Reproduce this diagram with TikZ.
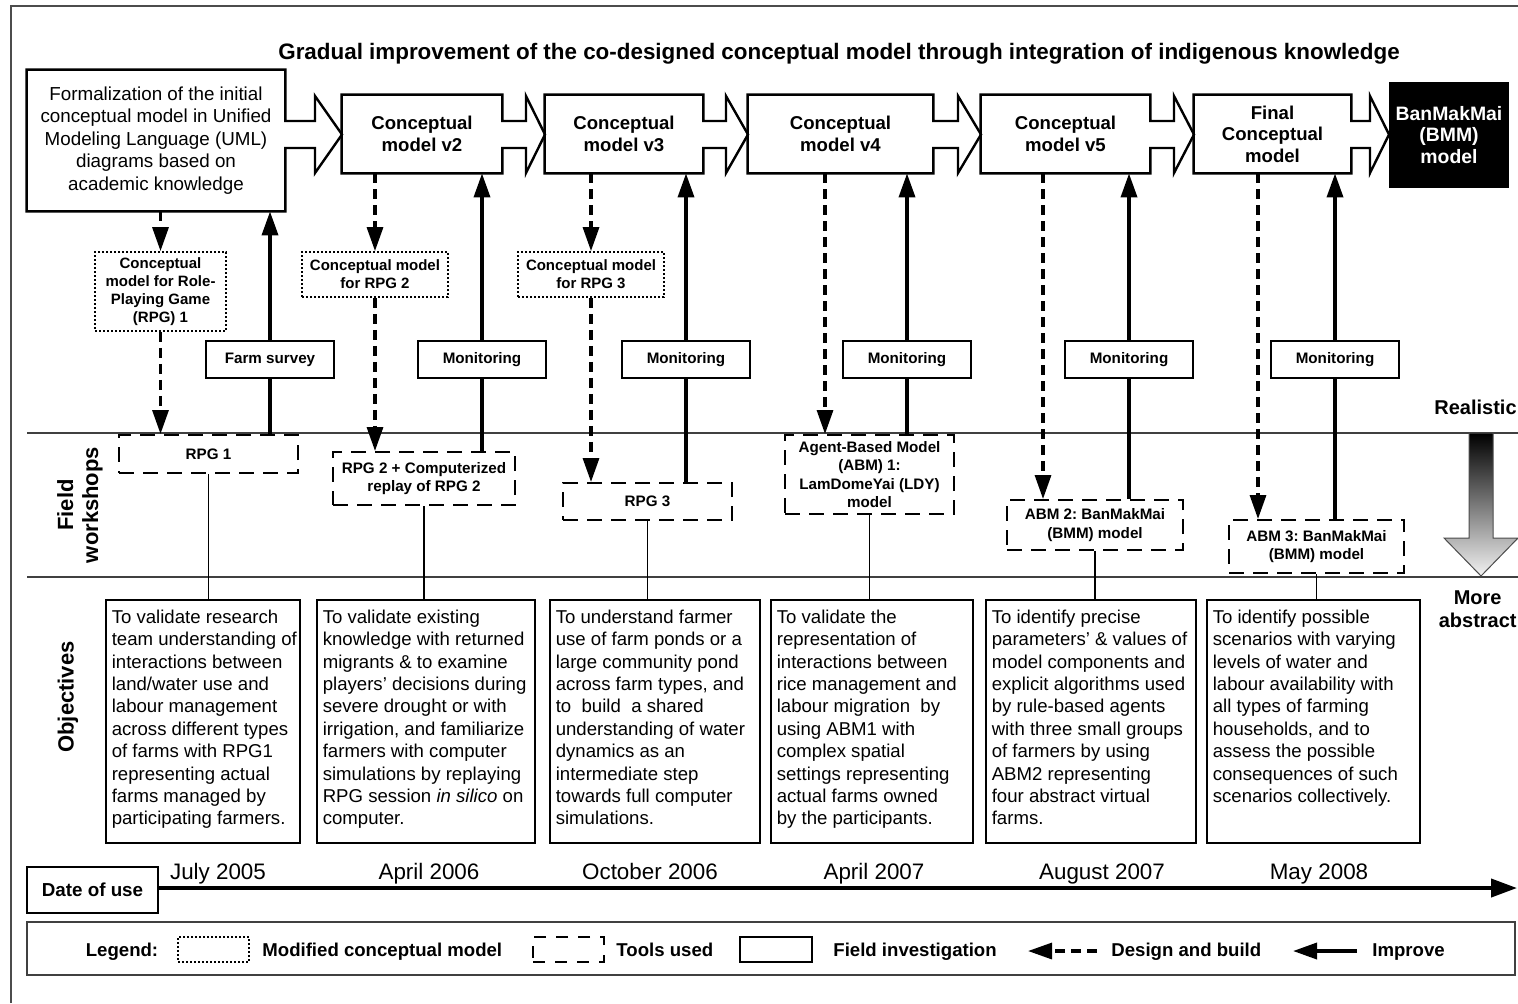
\documentclass[tikz,border=0pt]{standalone}
\usepackage{fontspec}
\setmainfont{Liberation Sans}
\usetikzlibrary{arrows.meta}
\frenchspacing

\begin{document}
\begin{tikzpicture}[
  x = 0.5pt, y = -0.5pt,
  every node/.style = {inner sep = 0pt},
  stage/.style = {align = center, font = \bfseries\fontsize{9.3}{10.8}\selectfont},
  stageline/.style = {line width = 1.2pt, line join = miter},
  cmbox/.style = {draw, dash pattern = on 1pt off 1pt, line width = 0.9pt, align = center,
                  font = \bfseries\fontsize{7.5}{9}\selectfont},
  toolbox/.style = {draw, dash pattern = on 7.5pt off 4.5pt, line width = 1pt, align = center,
                    font = \bfseries\fontsize{7.6}{9.1}\selectfont},
  fieldbox/.style = {draw, line width = 1pt, minimum width = 64pt, minimum height = 18.5pt,
                     font = \bfseries\fontsize{7.6}{9}\selectfont},
  objbox/.style = {draw, line width = 0.6pt, minimum height = 121.5pt},
  objtext/.style = {anchor = north west, align = left, inner xsep = 3pt, inner ysep = 5pt,
                    font = \fontsize{9.3}{11.2}\selectfont},
  design/.style = {-{Triangle[length = 12pt, width = 8pt]}, line width = 1.6pt, dash pattern = on 5pt off 3pt},
  improve/.style = {-{Triangle[length = 12pt, width = 8pt]}, line width = 1.8pt},
  link/.style = {line width = 0.8pt},
  sep/.style = {draw = black!75, line width = 0.6pt},
  datelabel/.style = {anchor = base, font = \fontsize{11.2}{13}\selectfont},
  keytext/.style = {anchor = base west, font = \bfseries\fontsize{9.3}{11}\selectfont},
  side/.style = {rotate = 90, align = center, font = \bfseries\fontsize{11}{12.5}\selectfont},
  ]
  \useasboundingbox (0,0) rectangle (1518,1003);
  \draw[black!70, line width = 0.6pt] (11,1003) -- (11,6) -- (1518,6);

  \node[font = \bfseries\fontsize{11.2}{13}\selectfont] (title) at (839,54)
    {Gradual improvement of the co-designed conceptual model through integration of indigenous knowledge};

  % conceptual model stages
  \node[stage, minimum width = 129pt, minimum height = 70.5pt, font = \fontsize{9.4}{11.2}\selectfont]
    (s1) at (156,140.5) {Formalization of the initial\\conceptual model in Unified\\Modeling Language (UML)\\diagrams based on\\academic knowledge};
  \node[stage, minimum width = 80pt, minimum height = 39pt] (s2) at (422,134) {Conceptual\\model v2};
  \node[stage, minimum width = 79pt, minimum height = 39pt] (s3) at (624,134) {Conceptual\\model v3};
  \node[stage, minimum width = 92.5pt, minimum height = 39pt] (s4) at (840.5,134) {Conceptual\\model v4};
  \node[stage, minimum width = 84.5pt, minimum height = 39pt] (s5) at (1065.5,134) {Conceptual\\model v5};
  \node[stage, minimum width = 78.5pt, minimum height = 39pt] (s6) at (1272.5,134) {Final\\Conceptual\\model};
  \node[stage, minimum width = 60pt, minimum height = 53pt, fill = black, text = white,
        font = \bfseries\fontsize{9.7}{10.6}\selectfont] (bmm) at (1449,135) {BanMakMai\\(BMM)\\model};

  \foreach \n/\h/\t in {s1/315/342, s2/526/545, s3/726/748, s4/958/981, s5/1174/1194, s6/1370/1389}
    \draw[stageline] (\n.north west) -- (\n.north east) -- (\n.east |- 0,121) -- (\h,121) -- (\h,96)
      -- (\t,134.5) -- (\h,173) -- (\h,148) -- (\n.east |- 0,148) -- (\n.south east) -- (\n.south west) -- cycle;

  % modified conceptual models
  \node[cmbox, minimum width = 65.5pt, minimum height = 39.5pt] (cm1) at (160.5,291.5)
    {Conceptual\\model for Role-\\Playing Game\\(RPG) 1};
  \node[cmbox, minimum width = 73pt, minimum height = 22.5pt] (cm2) at (375,274.5) {Conceptual model\\for RPG 2};
  \node[cmbox, minimum width = 73pt, minimum height = 22.5pt] (cm3) at (591,274.5) {Conceptual model\\for RPG 3};

  % field investigations
  \node[fieldbox] (m1) at (270,359.5) {Farm survey};
  \node[fieldbox] (m2) at (482,359.5) {Monitoring};
  \node[fieldbox] (m3) at (686,359.5) {Monitoring};
  \node[fieldbox] (m4) at (907,359.5) {Monitoring};
  \node[fieldbox] (m5) at (1129,359.5) {Monitoring};
  \node[fieldbox] (m6) at (1335,359.5) {Monitoring};

  % tools used in the workshops
  \node[toolbox, minimum width = 89.5pt, minimum height = 19pt] (t1) at (208.5,454) {RPG 1};
  \node[toolbox, minimum width = 91pt, minimum height = 26.5pt] (t2) at (424,478.5) {RPG 2 + Computerized\\replay of RPG 2};
  \node[toolbox, minimum width = 84.5pt, minimum height = 18.5pt] (t3) at (647.5,501.5) {RPG 3};
  \node[toolbox, minimum width = 84.5pt, minimum height = 39.5pt] (t4) at (869.5,474.5)
    {Agent-Based Model\\(ABM) 1:\\LamDomeYai (LDY)\\model};
  \node[toolbox, minimum width = 88pt, minimum height = 25pt] (t5) at (1095,525) {ABM 2: BanMakMai\\(BMM) model};
  \node[toolbox, minimum width = 87.5pt, minimum height = 26.5pt] (t6) at (1316.5,546.5) {ABM 3: BanMakMai\\(BMM) model};

  \draw[sep] (27,433) -- (1518,433);
  \draw[sep] (27,577) -- (1518,577);
  \node[side] (fw) at (80,505) {Field\\workshops};
  \node[side] (obj) at (68,697) {Objectives};

  % design and build
  \draw[design] (s1.south -| cm1) -- (cm1.north);
  \draw[design] (cm1.south) -- (cm1.south |- t1.north);
  \draw[design] (s2.south -| cm2) -- (cm2.north);
  \draw[design] (cm2.south) -- (cm2.south |- t2.north);
  \draw[design] (s3.south -| cm3) -- (cm3.north);
  \draw[design] (cm3.south) -- (cm3.south |- t3.north);
  \draw[design] (s4.south -| 825,0) -- (t4.north -| 825,0);
  \draw[design] (s5.south -| 1043,0) -- (t5.north -| 1043,0);
  \draw[design] (s6.south -| 1258,0) -- (t6.north -| 1258,0);

  % improve
  \foreach \i in {1,...,6} {
    \draw[improve, -] (t\i.north -| m\i) -- (m\i.south);
    \draw[improve] (m\i.north) -- (m\i.north |- s\i.south);
  }

  % objectives
  \node[objbox, minimum width = 97pt] (o1) at (203,721.5) {};
  \node[objbox, minimum width = 109pt] (o2) at (426,721.5) {};
  \node[objbox, minimum width = 105pt] (o3) at (655,721.5) {};
  \node[objbox, minimum width = 101pt] (o4) at (872,721.5) {};
  \node[objbox, minimum width = 105pt] (o5) at (1091,721.5) {};
  \node[objbox, minimum width = 106.5pt] (o6) at (1313.5,721.5) {};
  \foreach \i in {1,...,6}
    \draw[link] (t\i.south) -- (t\i.south |- o\i.north);

  \node[objtext] (ot1) at (o1.north west) {To validate research\\team understanding of\\interactions between\\land/water use and\\labour management\\across different types\\of farms with RPG1\\representing actual\\farms managed by\\participating farmers.};
  \node[objtext] (ot2) at (o2.north west) {To validate existing\\knowledge with returned\\migrants \& to examine\\players’ decisions during\\severe drought or with\\irrigation, and familiarize\\farmers with computer\\simulations by replaying\\RPG session \textit{in silico} on\\computer.};
  \node[objtext] (ot3) at (o3.north west) {To understand farmer\\use of farm ponds or a\\large community pond\\across farm types, and\\to\ \ build\ \ a shared\\understanding of water\\dynamics as an\\intermediate step\\towards full computer\\simulations.};
  \node[objtext] (ot4) at (o4.north west) {To validate the\\representation of\\interactions between\\rice management and\\labour migration\ \ by\\using ABM1 with\\complex spatial\\settings representing\\actual farms owned\\by the participants.};
  \node[objtext] (ot5) at (o5.north west) {To identify precise\\parameters’ \& values of\\model components and\\explicit algorithms used\\by rule-based agents\\with three small groups\\of farmers by using\\ABM2 representing\\four abstract virtual\\farms.};
  \node[objtext] (ot6) at (o6.north west) {To identify possible\\scenarios with varying\\levels of water and\\labour availability with\\all types of farming\\households, and to\\assess the possible\\consequences of such\\scenarios collectively.};

  % realistic to abstract
  \node[anchor = east, font = \bfseries\fontsize{10}{12}\selectfont] (real) at (1517,407) {Realistic};
  \shade[top color = black, bottom color = white!95!black, draw = black!70, line width = 0.5pt]
    (1469,433) -- (1493,433) -- (1493,538) -- (1518,538) -- (1481,576) -- (1444,538) -- (1469,538) -- cycle;
  \node[anchor = east, align = center, font = \bfseries\fontsize{10}{11.5}\selectfont] (abs) at (1517,609) {More\\abstract};

  % time line
  \node[draw, line width = 0.6pt, minimum width = 65.5pt, minimum height = 23pt,
        font = \bfseries\fontsize{9.4}{11}\selectfont] (du) at (92.5,890) {Date of use};
  \coordinate (tend) at (1517,888);
  \draw[line width = 2pt, -{Triangle[length = 13pt, width = 9pt]}] (du.east |- tend) -- (tend);
  \node[datelabel] (d1) at (218,879) {July 2005};
  \node[datelabel] (d2) at (429,879) {April 2006};
  \node[datelabel] (d3) at (650,879) {October 2006};
  \node[datelabel] (d4) at (874,879) {April 2007};
  \node[datelabel] (d5) at (1102,879) {August 2007};
  \node[datelabel] (d6) at (1319,879) {May 2008};

  % legend
  \node[draw = black!75, line width = 0.6pt, minimum width = 744pt, minimum height = 26.5pt] (leg) at (771,948.5) {};
  \node[keytext, anchor = base] (kl) at (122,956) {Legend:};
  \node[cmbox, minimum width = 35.5pt, minimum height = 12.5pt] (kcm) at (213.5,949.5) {};
  \node[keytext] (kcmt) at (262,956) {Modified conceptual model};
  \node[toolbox, minimum width = 35.5pt, minimum height = 12.5pt, dash pattern = on 6pt off 5pt] (ktool) at (568.5,949.5) {};
  \node[keytext] (ktoolt) at (616,956) {Tools used};
  \node[draw, line width = 1pt, minimum width = 36pt, minimum height = 12.5pt] (kfield) at (776,949.5) {};
  \node[keytext] (kfieldt) at (833,956) {Field investigation};
  \coordinate (kd1) at (1097,951);
  \coordinate (kd2) at (1028,951);
  \draw[design] (kd1) -- (kd2);
  \node[keytext] (kdt) at (1111,956) {Design and build};
  \coordinate (ki1) at (1357,951);
  \coordinate (ki2) at (1293,951);
  \draw[improve] (ki1) -- (ki2);
  \node[keytext] (kit) at (1372,956) {Improve};
\end{tikzpicture}
\end{document}
